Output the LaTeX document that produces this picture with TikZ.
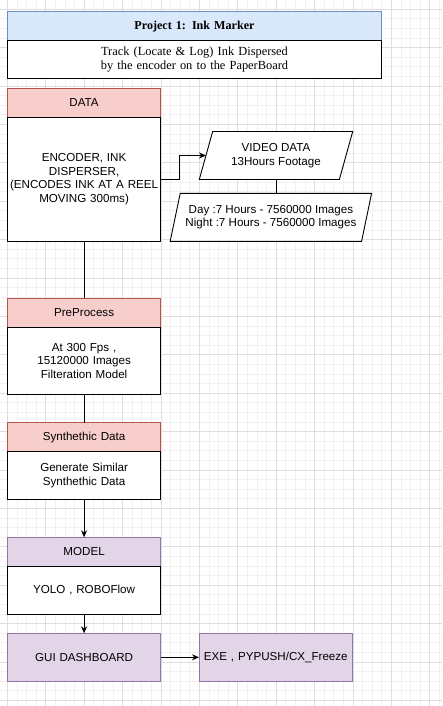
\documentclass[tikz,border=0pt]{standalone}
\usepackage{fontspec}
\setmainfont{Liberation Sans}
\newfontfamily\titlefont{Liberation Serif}
\usetikzlibrary{shapes.geometric,arrows.meta}
\definecolor{redstroke}{HTML}{B85450}
\definecolor{redfill}{HTML}{F8CECC}
\definecolor{purstroke}{HTML}{9673A6}
\definecolor{purfill}{HTML}{E1D5E7}
\definecolor{bluestroke}{HTML}{6C8EBF}
\definecolor{bluefill}{HTML}{DAE8FC}
\definecolor{gridminor}{HTML}{F1F1F1}
\definecolor{gridmajor}{HTML}{DEDEDE}
\tikzset{
  base/.style={inner sep=0pt, outer sep=0pt, line width=0.9pt, align=center,
    font=\fontsize{11.6}{13.4}\selectfont, text width=150pt},
  colbox/.style={base, minimum width=153.6pt},
  redhead/.style={colbox, draw=redstroke, fill=redfill, minimum height=28.8pt},
  purhead/.style={colbox, draw=purstroke, fill=purfill, minimum height=28.8pt},
  bodybox/.style={colbox, draw=black, fill=white},
  purbox/.style={colbox, draw=purstroke, fill=purfill, minimum height=48pt},
  para/.style={base, draw=black, fill=white, trapezium, trapezium left angle=68.4,
    trapezium right angle=111.6, trapezium stretches=true, minimum height=48pt, text width=},
  conn/.style={line width=0.9pt, draw=black},
  arr/.style={conn, -{Stealth[length=7pt,width=6pt]}}
}
\begin{document}
\begin{tikzpicture}[x=1pt,y=-1pt]
\useasboundingbox (0,0) rectangle (442,706);
\fill[white] (0,0) rectangle (442,706);
% grid
\foreach \i in {0,...,47} {
  \draw[gridminor, line width=0.8pt] ({-2.3+9.6*\i},0) -- ({-2.3+9.6*\i},706);
}
\foreach \i in {0,...,74} {
  \draw[gridminor, line width=0.8pt] (0,{-0.4+9.6*\i}) -- (442,{-0.4+9.6*\i});
}
\foreach \i in {0,...,11} {
  \draw[gridmajor, line width=0.8pt] ({7.3+38.4*\i},0) -- ({7.3+38.4*\i},706);
}
\foreach \i in {0,...,18} {
  \draw[gridmajor, line width=0.8pt] (0,{9.2+38.4*\i}) -- (442,{9.2+38.4*\i});
}
% title
\node[base, draw=bluestroke, fill=bluefill, minimum width=374.4pt, minimum height=28.8pt, text width=360pt,
  font=\titlefont\bfseries\fontsize{12.1}{14}\selectfont] (title) at (194.5,26.3) {Project 1: Ink Marker};
\node[base, draw=black, fill=white, minimum width=374.4pt, minimum height=38.4pt, text width=360pt,
  font=\titlefont\fontsize{12.4}{14.6}\selectfont] (tbody) at (194.5,59.5)
  {Track (Locate \& Log) Ink Dispersed\\by the encoder on to the PaperBoard};
% DATA
\node[redhead] (datah) at (84.1,102.7) {DATA};
\node[bodybox, minimum height=123.9pt] (datab) at (84.1,179.05)
  {ENCODER, INK\\DISPERSER,\\(ENCODES INK AT A REEL\\MOVING 300ms)};
% parallelograms
\node[para, minimum width=153.6pt] (video) at (276,155.5) {VIDEO DATA\\13Hours Footage};
\node[para, minimum width=201.6pt] (day) at (270.9,217.3)
  {Day :7 Hours - 7560000 Images\\Night :7 Hours - 7560000 Images};
% PreProcess
\node[redhead] (preh) at (84.1,312.7) {PreProcess};
\node[bodybox, minimum height=67.2pt] (preb) at (84.1,360.7)
  {At 300 Fps ,\\15120000 Images\\Filteration Model};
% Synthetic
\node[redhead] (synh) at (84.1,437.1) {Synthethic Data};
\node[bodybox, minimum height=48pt] (synb) at (84.1,475.5)
  {Generate Similar\\Synthethic Data};
% Model
\node[purhead] (modh) at (84.1,551.7) {MODEL};
\node[bodybox, minimum height=48pt] (modb) at (84.1,590.1) {YOLO , ROBOFlow};
% GUI / EXE
\node[purbox] (gui) at (84.1,657.3) {GUI DASHBOARD};
\node[purbox] (exe) at (275.8,657.3) {EXE , PYPUSH/CX\_Freeze};
% connectors
\draw[arr] (datab.east) -- ++(19,0) |- (video.west);
\draw[conn] (video.south) -- (video.south |- day.north);
\draw[conn] (datab.south) -- (preh.north);
\draw[conn] (preb.south) -- (synh.north);
\draw[arr] (synb.south) -- (modh.north);
\draw[arr] (modb.south) -- (gui.north);
\draw[arr] (gui.east) -- (exe.west);
\end{tikzpicture}
\end{document}
